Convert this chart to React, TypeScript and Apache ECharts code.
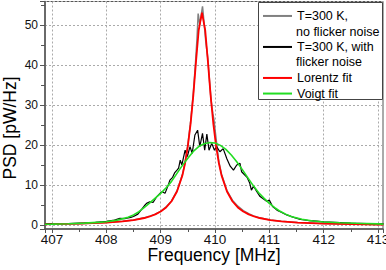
import React, { useEffect, useRef } from "react";
import * as echarts from "echarts";

// Frequency axis values (MHz) and PSD values (pW/Hz)
const grayFreq = [406.87, 407.0, 407.5, 408.0, 408.3, 408.5, 408.7, 408.8, 408.9, 409.0, 409.1, 409.2, 409.3, 409.4, 409.45, 409.5, 409.55, 409.6, 409.64, 409.67, 409.69, 409.72, 409.745, 409.77, 409.8, 409.83, 409.87, 409.9, 409.93, 409.96, 409.98, 410.0, 410.03, 410.07, 410.12, 410.22, 410.32, 410.42, 410.52, 410.62, 410.72, 410.82, 411.02, 411.22, 411.52, 412.0, 412.5, 413.0, 413.1];
const grayPsd = [0.25, 0.3, 0.42, 0.7, 1.0, 1.35, 1.9, 2.3, 2.8, 3.5, 4.6, 6.1, 8.6, 12.7, 15.8, 20.2, 25.8, 33.0, 40.5, 47.0, 53.0, 50.2, 52.5, 54.8, 50.5, 46.0, 41.5, 36.0, 31.0, 28.0, 26.5, 24.0, 20.5, 16.0, 12.8, 8.7, 6.3, 4.8, 3.7, 2.9, 2.3, 1.9, 1.35, 1.0, 0.7, 0.45, 0.3, 0.22, 0.2];

const blackFreq = [406.87, 407.0, 407.3, 407.6, 407.8, 408.0, 408.15, 408.25, 408.35, 408.45, 408.5, 408.58, 408.65, 408.7, 408.74, 408.8, 408.86, 408.93, 409.0, 409.03, 409.08, 409.14, 409.17, 409.22, 409.26, 409.3, 409.33, 409.36, 409.39, 409.45, 409.49, 409.54, 409.58, 409.63, 409.68, 409.72, 409.77, 409.81, 409.85, 409.89, 409.94, 409.99, 410.03, 410.09, 410.15, 410.22, 410.28, 410.34, 410.4, 410.46, 410.49, 410.59, 410.64, 410.67, 410.71, 410.77, 410.83, 410.9, 410.95, 411.0, 411.06, 411.14, 411.2, 411.32, 411.45, 411.57, 411.72, 411.87, 412.0, 412.2, 412.5, 412.8, 413.1];
const blackPsd = [0.35, 0.4, 0.45, 0.6, 0.75, 1.0, 1.3, 1.75, 1.7, 2.0, 2.2, 2.8, 4.0, 4.9, 5.5, 5.9, 5.7, 7.2, 8.2, 8.4, 8.0, 10.1, 11.3, 12.0, 13.2, 13.8, 14.3, 16.3, 15.1, 18.8, 17.2, 19.7, 18.0, 22.6, 23.8, 19.7, 23.0, 18.8, 22.8, 18.8, 20.5, 18.8, 19.7, 18.4, 19.2, 16.6, 14.8, 13.8, 15.1, 15.5, 13.4, 12.0, 10.5, 8.8, 9.8, 8.4, 7.2, 6.5, 6.0, 6.3, 4.7, 3.8, 3.4, 2.6, 2.0, 1.5, 1.2, 1.05, 0.85, 0.75, 0.55, 0.45, 0.4];

const lorentzFreq = [406.87, 407.0, 407.5, 408.0, 408.3, 408.5, 408.7, 408.8, 408.9, 409.0, 409.1, 409.2, 409.3, 409.4, 409.45, 409.5, 409.55, 409.6, 409.65, 409.7, 409.76, 409.82, 409.87, 409.92, 409.97, 410.02, 410.07, 410.12, 410.22, 410.32, 410.42, 410.52, 410.62, 410.72, 410.82, 411.02, 411.22, 411.52, 412.0, 412.5, 413.0, 413.1];
const lorentzPsd = [0.25, 0.28, 0.41, 0.68, 0.98, 1.31, 1.83, 2.21, 2.73, 3.45, 4.47, 6.02, 8.46, 12.5, 15.6, 19.8, 25.3, 32.4, 40.9, 48.8, 53.2, 48.8, 40.9, 32.4, 25.3, 19.8, 15.6, 12.5, 8.46, 6.02, 4.47, 3.45, 2.73, 2.21, 1.83, 1.31, 0.98, 0.68, 0.42, 0.28, 0.2, 0.19];

const voigtFreq = [406.87, 407.0, 407.3, 407.6, 407.9, 408.0, 408.2, 408.4, 408.5, 408.6, 408.7, 408.8, 408.9, 409.0, 409.1, 409.2, 409.3, 409.4, 409.5, 409.6, 409.7, 409.8, 409.9, 410.0, 410.1, 410.2, 410.3, 410.4, 410.5, 410.6, 410.7, 410.8, 410.9, 411.0, 411.1, 411.2, 411.3, 411.4, 411.6, 411.8, 412.0, 412.3, 412.6, 413.0, 413.1];
const voigtPsd = [0.28, 0.3, 0.4, 0.55, 0.8, 0.9, 1.3, 2.0, 2.6, 3.4, 4.5, 5.6, 6.8, 8.0, 9.4, 11.0, 13.0, 15.0, 16.8, 18.5, 19.7, 20.4, 20.7, 20.6, 20.0, 19.0, 17.6, 15.9, 14.0, 12.0, 10.0, 8.2, 6.8, 5.5, 4.4, 3.5, 2.8, 2.2, 1.5, 1.1, 0.85, 0.65, 0.5, 0.35, 0.3];

// legend labels: first line (legend entry) and continuation line
const seriesNames = [
  "T=300 K, no flicker noise",
  "T=300 K, with flicker noise",
  "Lorentz fit",
  "Voigt fit",
];
const legendFirstLines = ["T=300 K,", "T=300 K, with", "Lorentz fit", "Voigt fit"];
const legendSecondLines = ["no flicker noise", "flicker noise", "", ""];
const seriesColors = ["#808080", "#000000", "#ff0000", "#22dd22"];

const xTitle = "Frequency [MHz]";
const yTitle = "PSD [pW/Hz]";

const FONT = "'Liberation Sans', Arial, Helvetica, sans-serif";

function zip(xs: number[], ys: number[]) {
  return xs.map((x, i) => [x, ys[i]]);
}

export default function App() {
  const ref = useRef<HTMLDivElement>(null);
  useEffect(() => {
    if (!ref.current) return;
    const chart = echarts.init(ref.current, null, { renderer: "svg" });
    const datasets = [
      zip(grayFreq, grayPsd),
      zip(blackFreq, blackPsd),
      zip(lorentzFreq, lorentzPsd),
      zip(voigtFreq, voigtPsd),
    ];
    const widths = [1.5, 1.2, 1.8, 1.6];
    const legendRowY = [15.7, 46.7, 77.7, 93.3];
    const secondRowY = [31.5, 62.3];
    const IH = 12.5;
    const legends = seriesNames.map((n, i) => ({
      data: [n],
      orient: "vertical",
      left: 262,
      top: legendRowY[i] - IH / 2,
      padding: 0,
      itemWidth: 29,
      itemHeight: IH,
      selectedMode: false,
      itemStyle: { opacity: 0 },
      formatter: () => legendFirstLines[i],
      textStyle: { fontSize: 12.5, lineHeight: IH, color: "#000", fontFamily: FONT },
    }));
    const secondLineTexts = legendSecondLines
      .filter((t) => t)
      .map((t, i) => ({
        type: "text",
        z: 5,
        x: 296,
        y: secondRowY[i],
        style: {
          text: t,
          fontSize: 12.5,
          fontFamily: FONT,
          fill: "#000",
          align: "left",
          verticalAlign: "middle",
        },
      }));
    chart.setOption({
      animation: false,
      backgroundColor: "#ffffff",
      grid: {
        left: 45,
        right: 3,
        top: 1.5,
        bottom: 41,
        show: true,
        borderColor: "#555",
        borderWidth: 1,
        containLabel: false,
        outerBoundsMode: "none",
      },
      xAxis: {
        type: "value",
        min: 406.871,
        max: 413.092,
        splitNumber: 6,
        axisLine: { show: true, onZero: false, lineStyle: { color: "#555", width: 1.5 } },
        axisTick: { show: true, length: 4, lineStyle: { color: "#555" } },
        minorTick: { show: true, splitNumber: 2, length: 3, lineStyle: { color: "#555" } },
        axisLabel: {
          showMinLabel: false,
          showMaxLabel: false,
          interval: 0,
          fontSize: 13.5,
          color: "#111",
          margin: 3,
          fontFamily: FONT,
        },
        splitLine: { show: true, lineStyle: { color: "#aaa", type: [2, 2], width: 1 } },
      },
      yAxis: {
        type: "value",
        min: -0.92,
        max: 56,
        splitNumber: 6,
        axisLine: { show: true, onZero: false, lineStyle: { color: "#555", width: 1.5 } },
        axisTick: { show: true, length: 5, lineStyle: { color: "#555" } },
        minorTick: { show: true, splitNumber: 2, length: 4, lineStyle: { color: "#555" } },
        axisLabel: {
          showMinLabel: false,
          showMaxLabel: false,
          fontSize: 12,
          color: "#111",
          margin: 7,
          fontFamily: FONT,
        },
        splitLine: { show: true, lineStyle: { color: "#aaa", type: [2, 2], width: 1 } },
      },
      legend: legends,
      graphic: [
        {
          type: "rect",
          z: 3,
          shape: { x: 258.5, y: 2.5, width: 124, height: 97 },
          style: { fill: "#ffffff", stroke: "#444", lineWidth: 1 },
        },
        ...secondLineTexts,
        {
          type: "text",
          x: 214,
          y: 255,
          style: {
            text: xTitle,
            fontSize: 17.5,
            fontFamily: FONT,
            fill: "#000",
            align: "center",
            verticalAlign: "middle",
          },
        },
        {
          type: "text",
          x: 9.5,
          y: 128,
          rotation: Math.PI / 2,
          style: {
            text: yTitle,
            fontSize: 17.5,
            fontFamily: FONT,
            fill: "#000",
            align: "center",
            verticalAlign: "middle",
          },
        },
      ],
      series: datasets.map((d, i) => ({
        name: seriesNames[i],
        type: "line",
        data: d,
        symbol: "none",
        showSymbol: false,
        clip: true,
        color: seriesColors[i],
        lineStyle: { color: seriesColors[i], width: widths[i] },
        z: 2 + i * 0.1,
      })),
    });
    return () => chart.dispose();
  }, []);
  return (
    <div
      ref={ref}
      style={{ position: "fixed", left: 0, top: 0, width: 386, height: 270 }}
    />
  );
}
